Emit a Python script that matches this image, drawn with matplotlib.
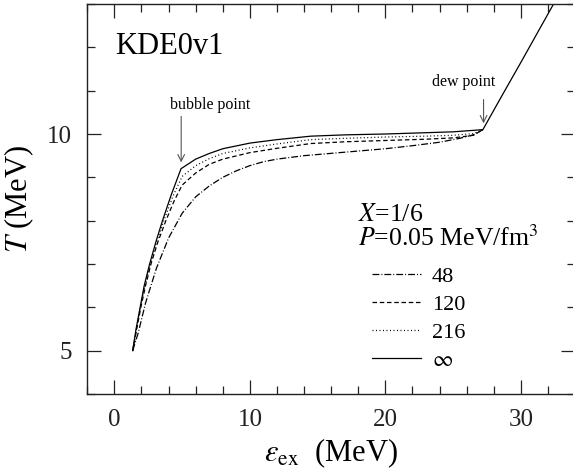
import matplotlib
matplotlib.use("Agg")
import matplotlib.pyplot as plt

plt.rcParams['font.family'] = ['Liberation Serif', 'DejaVu Serif']
plt.rcParams['mathtext.fontset'] = 'stix'

# ---- data ----
eps_inf = [1.35, 1.6, 1.9, 2.2, 2.6, 3.1, 3.55, 4.2, 4.92, 6, 7, 8, 10, 12, 14.5, 17, 20, 23, 25, 27.2, 28.6, 30, 32.4, 33.5]
T_inf = [5.0, 5.5, 6.0, 6.5, 7.0, 7.55, 8.0, 8.6, 9.2, 9.42, 9.55, 9.66, 9.79, 9.87, 9.95, 9.98, 10.0, 10.03, 10.05, 10.1, 10.88, 11.65, 12.99, 13.6]

eps_216 = [1.35, 1.62, 1.92, 2.25, 2.65, 3.1, 3.65, 4.3, 5.0, 6, 7, 8, 10, 12, 14.5, 17, 20, 23, 25, 26.5, 27.2]
T_216 = [5.0, 5.5, 6.0, 6.5, 7.0, 7.5, 8.0, 8.55, 9.02, 9.27, 9.43, 9.55, 9.68, 9.77, 9.87, 9.9, 9.93, 9.95, 9.97, 10.01, 10.1]

eps_120 = [1.35, 1.65, 1.95, 2.3, 2.7, 3.2, 3.8, 4.4, 5.0, 6, 7, 8, 10, 12, 14.5, 17, 20, 23, 25, 26.5, 27.2]
T_120 = [5.0, 5.5, 6.0, 6.5, 7.0, 7.5, 8.0, 8.45, 8.82, 9.1, 9.3, 9.42, 9.57, 9.67, 9.78, 9.82, 9.85, 9.88, 9.91, 9.97, 10.1]

eps_48 = [1.35, 1.75, 2.3, 3.1, 4.0, 5.0, 6, 7, 8, 9, 10, 11, 12, 14, 17, 20, 22, 24, 25.5, 26.5, 27.2]
T_48 = [5.0, 5.4, 6.1, 6.9, 7.6, 8.17, 8.55, 8.8, 9.0, 9.15, 9.27, 9.36, 9.42, 9.5, 9.58, 9.66, 9.73, 9.81, 9.9, 9.98, 10.1]

labels = ["48", "120", "216", r"$\infty$"]
x_ticks = [0, 10, 20, 30]
y_ticks = [5, 10]

bubble_point = (4.93, 9.28)
dew_point = (27.25, 10.18)

# ---- figure ----
fig = plt.figure(figsize=(5.73, 4.70), dpi=100)
ax = fig.add_axes([87.3 / 573, 76 / 470, (575 - 87.3) / 573, 390 / 470])

lw = 0.9
l48, = ax.plot(eps_48, T_48, color='black', lw=lw, dashes=(5.5, 1.6, 0.8, 1.6))
l120, = ax.plot(eps_120, T_120, color='black', lw=lw, dashes=(3.6, 2.2))
l216, = ax.plot(eps_216, T_216, color='black', lw=lw, dashes=(0.8, 2.0))
linf, = ax.plot(eps_inf, T_inf, color='black', lw=lw)

ax.set_xlim(-2, 34)
ax.set_ylim(4, 13)
ax.set_xticks(x_ticks)
ax.set_xticks(range(-2, 35, 2), minor=True)
ax.set_yticks(y_ticks)
ax.set_yticks(range(4, 14), minor=True)
ax.tick_params(which='both', direction='in', top=True, right=True, width=0.9, colors='#222222')
ax.tick_params(which='major', length=10, labelsize=18, pad=11)
ax.tick_params(which='minor', length=5.5)
for s in ax.spines.values():
    s.set_linewidth(1.0)
    s.set_color('#222222')

ax.set_xlabel(r"$\varepsilon_{\rm ex}$  (MeV)", fontsize=22, labelpad=4)
ax.set_ylabel(r"$T$ (MeV)", fontsize=22, labelpad=8)

ax.text(0.05, 12.02, "KDE0v1", fontsize=22, ha='left', va='center')

ax.text(18.0, 8.0, r"$X$=1/6", fontsize=18.5, ha='left', va='baseline')
ax.text(18.0, 7.42, r"$P$=0.05 MeV/fm$^3$", fontsize=18.5, ha='left', va='baseline')

ax.text(7.04, 10.68, "bubble point", fontsize=11.5, ha='center', va='center')
ax.annotate("", xy=bubble_point, xytext=(bubble_point[0], 10.47),
            arrowprops=dict(arrowstyle='->', color='#555555', lw=0.8, mutation_scale=12))
ax.text(25.76, 11.2, "dew point", fontsize=11.5, ha='center', va='center')
ax.annotate("", xy=dew_point, xytext=(dew_point[0], 10.86),
            arrowprops=dict(arrowstyle='->', color='#555555', lw=0.8, mutation_scale=12))

leg = ax.legend([l48, l120, l216, linf], labels, loc='upper left',
                bbox_to_anchor=((371.7 - 87.3) / 487.7, (394 - 266) / 390),
                frameon=False, fontsize=16, handlelength=2.2, handletextpad=0.5,
                labelspacing=0.34, borderpad=0, borderaxespad=0)

fig.savefig("out.png", dpi=100)
